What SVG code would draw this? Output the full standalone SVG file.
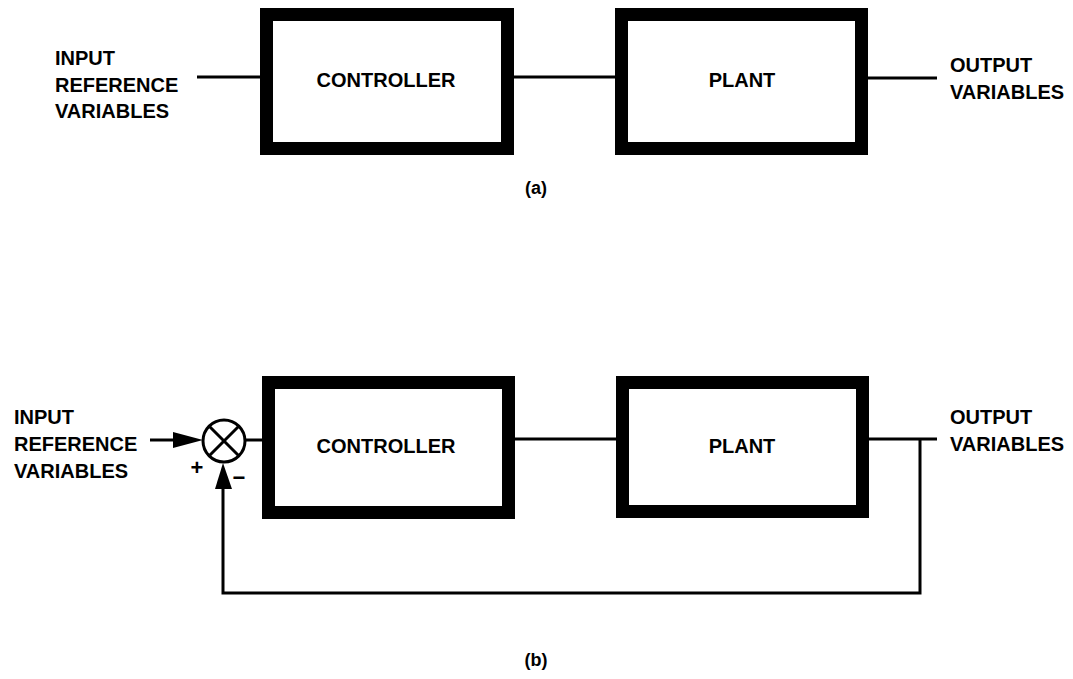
<svg xmlns="http://www.w3.org/2000/svg" width="1073" height="679" viewBox="0 0 1073 679">
<style>
text{font-family:"Liberation Sans",Arial,sans-serif;font-weight:bold;font-size:20px;fill:#000}
.lbl{font-size:18px}
.sign{font-size:22px}
.box{fill:#fff;stroke:#000;stroke-width:13}
.ln{fill:none;stroke:#000;stroke-width:3}
</style>
<rect width="1073" height="679" fill="#fff"/>

<g id="connectors">
<line class="ln" x1="197" y1="77" x2="262" y2="77"/>
<line class="ln" x1="514" y1="77" x2="617" y2="77"/>
<line class="ln" x1="867" y1="78" x2="937" y2="78"/>
<line class="ln" x1="150" y1="440" x2="176" y2="440"/>
<path d="M173,432 L203,440 L173,448 Z" fill="#000"/>
<line class="ln" x1="245" y1="440" x2="263" y2="440"/>
<line class="ln" x1="514" y1="439" x2="618" y2="439"/>
<line class="ln" x1="867" y1="439" x2="937" y2="439"/>
<polyline class="ln" points="920,439 920,593 223,593 223,485"/>
<path d="M215,489 L223,463 L232,489 Z" fill="#000"/>
</g>

<g id="sum">
<circle cx="224" cy="441" r="21" fill="#fff" stroke="#000" stroke-width="3"/>
<line class="ln" x1="209.5" y1="426.5" x2="238.5" y2="455.5"/>
<line class="ln" x1="238.5" y1="426.5" x2="209.5" y2="455.5"/>
<text x="197" y="475" text-anchor="middle" class="sign">+</text>
<text x="239" y="485" text-anchor="middle" class="sign">−</text>
</g>

<g id="controller-a">
<rect class="box" x="266.5" y="14.5" width="241" height="134"/>
<text x="386" y="87" text-anchor="middle">CONTROLLER</text>
</g>
<g id="plant-a">
<rect class="box" x="621.5" y="14.5" width="240" height="134"/>
<text x="742" y="87" text-anchor="middle">PLANT</text>
</g>
<g id="input-a">
<text x="55" y="65">INPUT</text>
<text x="55" y="92">REFERENCE</text>
<text x="55" y="118">VARIABLES</text>
</g>
<g id="output-a">
<text x="950" y="72">OUTPUT</text>
<text x="950" y="99">VARIABLES</text>
</g>
<text x="536" y="194" text-anchor="middle" class="lbl">(a)</text>

<g id="controller-b">
<rect class="box" x="268.5" y="382.5" width="240" height="130"/>
<text x="386" y="453" text-anchor="middle">CONTROLLER</text>
</g>
<g id="plant-b">
<rect class="box" x="622.5" y="382.5" width="240" height="129"/>
<text x="742" y="453" text-anchor="middle">PLANT</text>
</g>
<g id="input-b">
<text x="14" y="424">INPUT</text>
<text x="14" y="451">REFERENCE</text>
<text x="14" y="478">VARIABLES</text>
</g>
<g id="output-b">
<text x="950" y="424">OUTPUT</text>
<text x="950" y="451">VARIABLES</text>
</g>
<text x="536" y="666" text-anchor="middle" class="lbl">(b)</text>
</svg>
